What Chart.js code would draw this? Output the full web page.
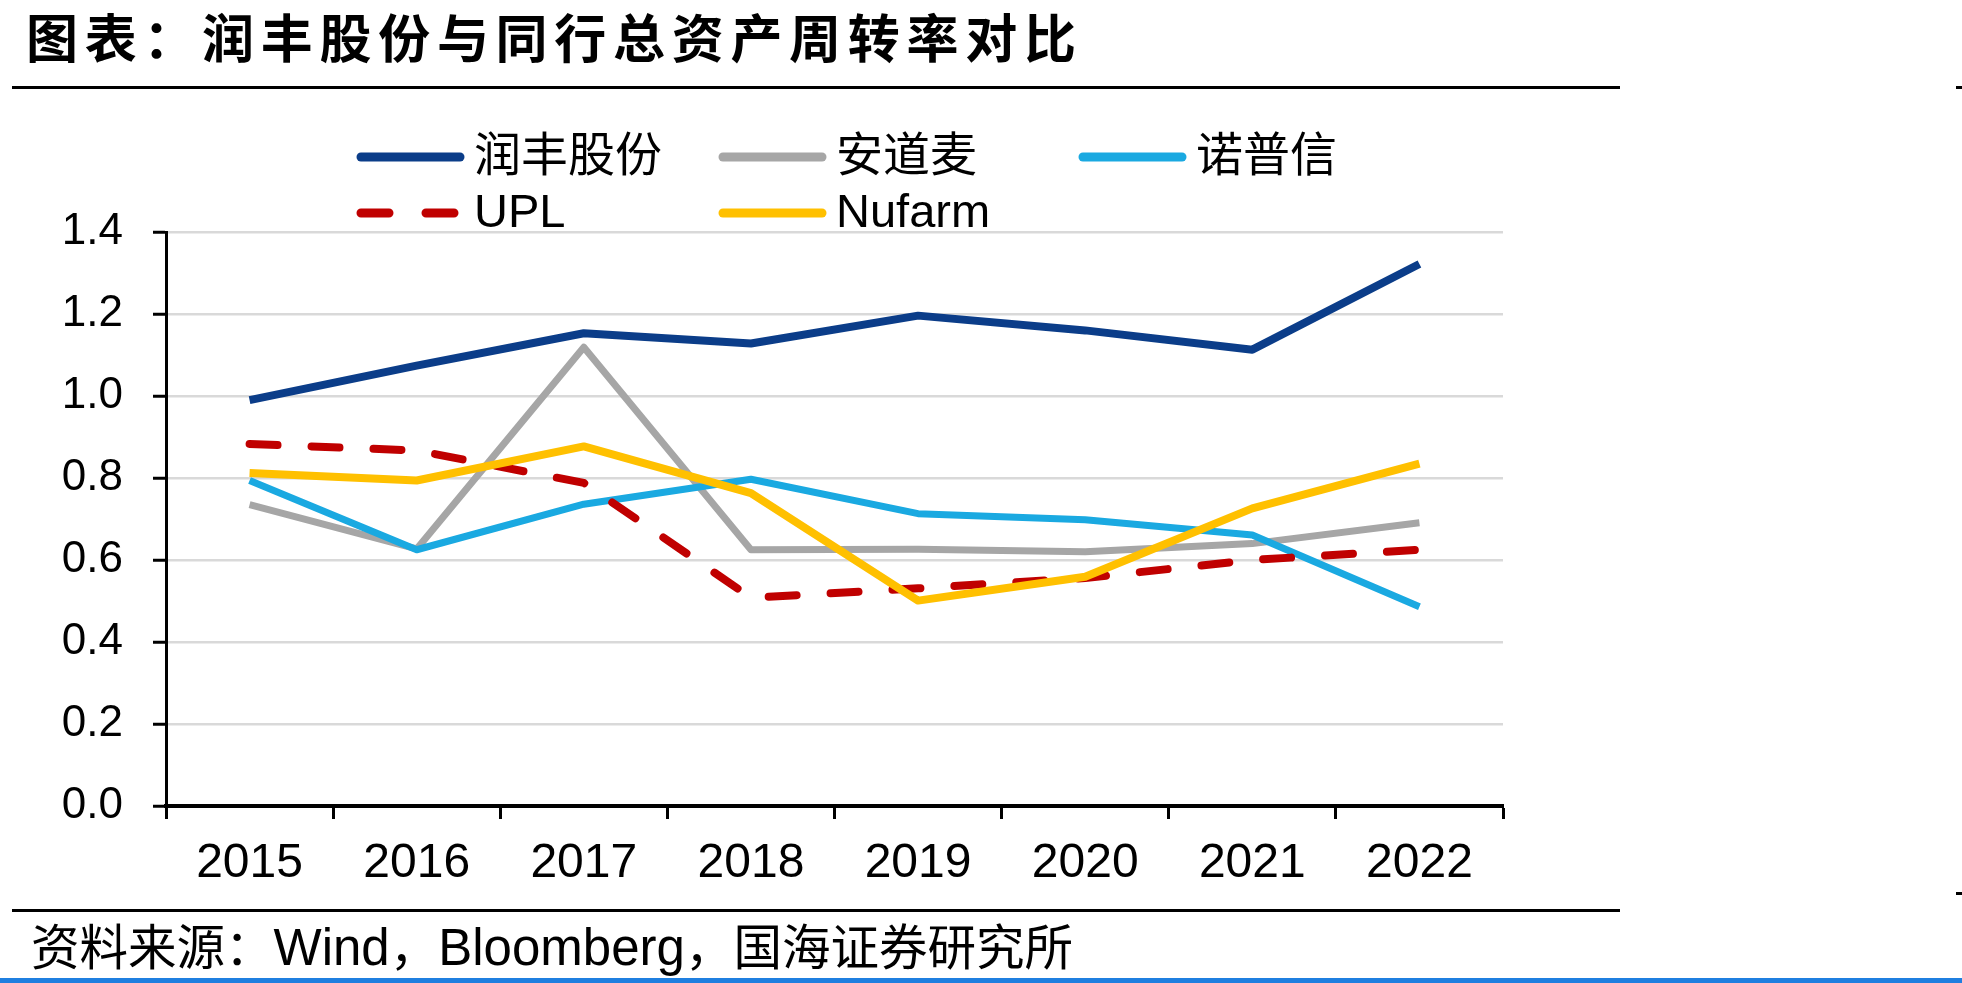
<!DOCTYPE html>
<html lang="zh-CN">
<head>
    <meta charset="UTF-8">
    <title>润丰股份与同行总资产周转率对比</title>
    <script src="https://cdn.jsdelivr.net/npm/chart.js"></script>
    <style>
        html, body { margin: 0; padding: 0; background: #fff; }
        #page { position: relative; width: 1962px; height: 983px; overflow: hidden; background: #fff; }
        #title {
            position: absolute; left: 26px; top: 4px;
            font-family: "Noto Sans CJK SC", sans-serif; font-weight: 700;
            font-size: 52px; letter-spacing: 6.7px; line-height: 64px; color: #000;
        }
        .rule { position: absolute; background: #000; }
        #source {
            position: absolute; left: 31px; top: 914px; white-space: nowrap;
            font-family: "Noto Sans CJK SC", sans-serif;
            font-size: 48.5px; line-height: 60px; color: #000;
        }
        #source .en { font-family: "Liberation Sans", Arial, sans-serif; font-size: 51px; }
        #bottomBar { position: absolute; left: 0; top: 978px; width: 1962px; height: 5px; background: #1f7fe0; }
        #chart { position: absolute; left: 0; top: 0; }
    </style>
</head>
<body>
<div id="page">
    <div id="title">图表：润丰股份与同行总资产周转率对比</div>
    <div class="rule" style="left:12px; top:86px; width:1608px; height:3px;"></div>
    <div class="rule" style="left:1956px; top:86px; width:6px; height:3px;"></div>
    <canvas id="chart" width="1962" height="983"></canvas>
    <div class="rule" style="left:12px; top:909px; width:1608px; height:3px;"></div>
    <div class="rule" style="left:1956px; top:892px; width:6px; height:3px;"></div>
    <div id="source">资料来源：<span class="en">Wind</span>，<span class="en">Bloomberg</span>，国海证券研究所</div>
    <div id="bottomBar"></div>
</div>

<script>
    // data
    const years = ['2015', '2016', '2017', '2018', '2019', '2020', '2021', '2022'];
    const runfeng = [0.990, 1.074, 1.153, 1.128, 1.196, 1.160, 1.113, 1.322];
    const adama = [0.735, 0.627, 1.119, 0.625, 0.626, 0.620, 0.640, 0.691];
    const noposion = [0.794, 0.625, 0.736, 0.797, 0.713, 0.698, 0.661, 0.486];
    const upl = [0.883, 0.867, 0.788, 0.508, 0.531, 0.556, 0.600, 0.625];
    const nufarm = [0.812, 0.794, 0.877, 0.763, 0.501, 0.559, 0.726, 0.835];
    const yTicks = [0, 0.2, 0.4, 0.6, 0.8, 1.0, 1.2, 1.4];

    const latinCjk = '"Liberation Sans", Arial, "Noto Sans CJK SC", sans-serif';

    // legend: drawn by hand so the second row lines up under the first
    const legendItems = [
        { text: '润丰股份', color: '#0b3d89', dash: [], x: 356, y: 157 },
        { text: '安道麦', color: '#a6a6a6', dash: [], x: 718, y: 157 },
        { text: '诺普信', color: '#1aa9e1', dash: [], x: 1078, y: 157 },
        { text: 'UPL', color: '#c00000', dash: [28, 37], x: 356, y: 213 },
        { text: 'Nufarm', color: '#ffc000', dash: [], x: 718, y: 213 }
    ];

    const legendPlugin = {
        id: 'customLegend',
        afterDraw(chart) {
            const ctx = chart.ctx;
            ctx.save();
            legendItems.forEach(item => {
                ctx.beginPath();
                ctx.setLineDash(item.dash);
                ctx.lineCap = 'round';
                ctx.lineWidth = 9;
                ctx.strokeStyle = item.color;
                ctx.moveTo(item.x + 5, item.y);
                ctx.lineTo(item.x + 104, item.y);
                ctx.stroke();
                ctx.setLineDash([]);
                ctx.fillStyle = '#000';
                ctx.font = '47px ' + latinCjk;
                ctx.textBaseline = 'middle';
                ctx.textAlign = 'left';
                ctx.fillText(item.text, item.x + 118, item.y + 1);
            });
            ctx.restore();
        }
    };

    function series(label, data, color, width, order, dash) {
        return {
            label: label,
            data: data,
            borderColor: color,
            backgroundColor: color,
            borderWidth: width,
            borderDash: dash || [],
            borderCapStyle: dash ? 'round' : 'butt',
            borderJoinStyle: 'round',
            pointRadius: 0,
            tension: 0,
            order: order
        };
    }

    new Chart(document.getElementById('chart'), {
        type: 'line',
        data: {
            labels: years,
            datasets: [
                series('润丰股份', runfeng, '#0b3d89', 8, 5),
                series('安道麦', adama, '#a6a6a6', 7, 4),
                series('诺普信', noposion, '#1aa9e1', 7, 3),
                series('UPL', upl, '#c00000', 8, 2, [28, 34]),
                series('Nufarm', nufarm, '#ffc000', 8, 1)
            ]
        },
        options: {
            responsive: false,
            devicePixelRatio: 1,
            animation: false,
            layout: { padding: { left: 0, right: 459, top: 232, bottom: 77 } },
            plugins: {
                legend: { display: false },
                tooltip: { enabled: false }
            },
            scales: {
                x: {
                    offset: true,
                    grid: {
                        offset: true,
                        drawOnChartArea: false,
                        drawTicks: true,
                        tickLength: 13,
                        tickColor: '#000',
                        tickWidth: 3
                    },
                    border: { color: '#000', width: 4 },
                    ticks: {
                        color: '#000',
                        padding: 16,
                        font: { family: latinCjk, size: 48 }
                    },
                    afterFit(scale) { scale.height = 100; }
                },
                y: {
                    min: 0,
                    max: 1.4,
                    afterBuildTicks(scale) {
                        scale.ticks = yTicks.map(v => ({ value: v }));
                    },
                    grid: {
                        color: '#d9d9d9',
                        lineWidth: 2.5,
                        tickLength: 13,
                        tickColor: '#000',
                        tickWidth: 3
                    },
                    border: { color: '#000', width: 3 },
                    ticks: {
                        color: '#000',
                        padding: 30,
                        font: { family: latinCjk, size: 44 },
                        callback: v => v.toFixed(1)
                    },
                    afterFit(scale) { scale.width = 166; }
                }
            }
        },
        plugins: [legendPlugin]
    });
</script>
</body>
</html>
